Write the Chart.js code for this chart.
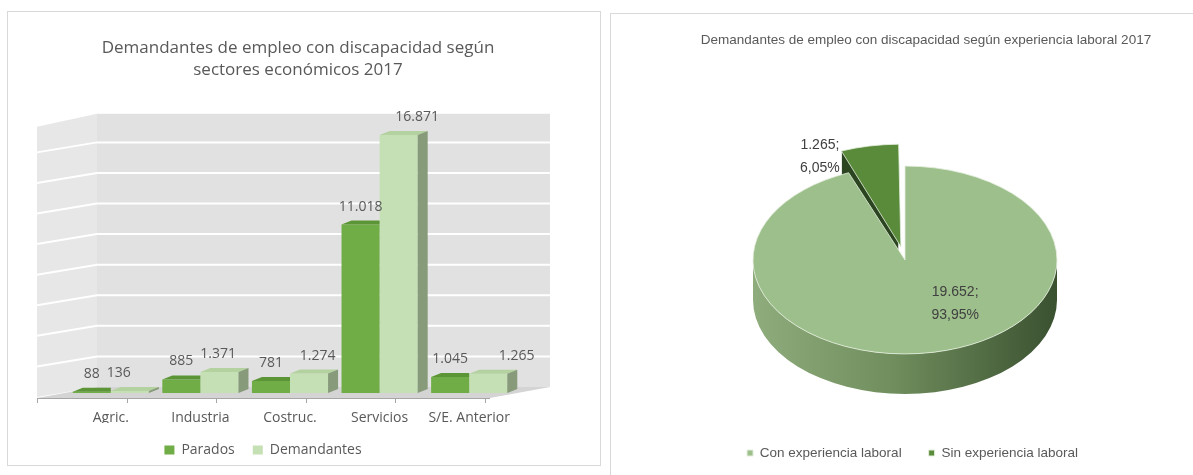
<!DOCTYPE html>
<html><head><meta charset="utf-8">
<script src="https://cdn.jsdelivr.net/npm/chart.js@4.4.0/dist/chart.umd.min.js"></script>
<style>
html,body{margin:0;padding:0;background:#fff;width:1193px;height:475px;overflow:hidden;}
#p1{position:absolute;left:7px;top:11px;width:592px;height:453px;border:1px solid #d9d9d9;}
#p2{position:absolute;left:610px;top:13px;width:583px;height:462px;border-left:1px solid #d9d9d9;border-top:1px solid #d9d9d9;}
canvas{display:block;}
</style></head><body>
<div id="p1"><canvas id="c1" width="592" height="453"></canvas></div>
<div id="p2"><canvas id="c2" width="582" height="461"></canvas></div>
<script>
// ---- data ----
const sectores = ['Agric.', 'Industria', 'Costruc.', 'Servicios', 'S/E. Anterior'];
const parados = [88, 885, 781, 11018, 1045];
const demandantes = [136, 1371, 1274, 16871, 1265];
const yTicks = [0, 2000, 4000, 6000, 8000, 10000, 12000, 14000, 16000, 18000];
const experiencia = ['Con experiencia laboral', 'Sin experiencia laboral'];
const experienciaValores = [19652, 1265];

const fmt = n => String(n).replace(/\B(?=(\d{3})+(?!\d))/g, '.');
const pct = (v, t) => (v / t * 100).toFixed(2).replace('.', ',') + '%';

const GREY = '#595959';
const OPEN = '"Open Sans", "DejaVu Sans", sans-serif';
const NARROW = '"Liberation Sans", Arial, sans-serif';

// shift title / legend boxes after layout
const shiftPlugin = {
  id: 'shiftBoxes',
  afterLayout(chart, args, o) {
    if (chart.titleBlock && o.titleDx) { chart.titleBlock.left += o.titleDx; chart.titleBlock.right += o.titleDx; }
    if (chart.legend) {
      chart.legend.left += (o.legendDx || 0); chart.legend.right += (o.legendDx || 0);
      chart.legend.top += (o.legendDy || 0); chart.legend.bottom += (o.legendDy || 0);
    }
  }
};

// ---- 3D-like background for bar chart ----
const wallPlugin = {
  id: 'wall3d',
  beforeDraw(chart) {
    const {ctx, chartArea: a, scales: {x, y}} = chart;
    const L = a.left, R = a.right, B = a.bottom;
    const wl = L + 31, wr = R + 36, wt = a.top - 4, wb = B - 6;
    const sl = L - 29;
    ctx.save();
    ctx.fillStyle = '#e1e1e1';
    ctx.fillRect(wl, wt, wr - wl, wb - wt);
    ctx.fillStyle = '#e7e7e7';
    ctx.beginPath(); ctx.moveTo(sl, wt + 13); ctx.lineTo(wl, wt); ctx.lineTo(wl, wb); ctx.lineTo(sl, wb + 10); ctx.closePath(); ctx.fill();
    ctx.fillStyle = '#d4d4d4';
    ctx.beginPath(); ctx.moveTo(sl, B + 5); ctx.lineTo(R - 24, B + 5); ctx.lineTo(wr, wb); ctx.lineTo(wl, wb); ctx.closePath(); ctx.fill();
    ctx.strokeStyle = '#ffffff'; ctx.lineWidth = 2;
    yTicks.slice(1, -1).forEach(v => {
      const py = y.getPixelForValue(v) - 6;
      ctx.beginPath(); ctx.moveTo(sl, py + 10); ctx.lineTo(wl, py); ctx.lineTo(wr, py); ctx.stroke();
    });
    ctx.strokeStyle = '#a6a6a6'; ctx.lineWidth = 1;
    ctx.beginPath(); ctx.moveTo(sl, B + 5.5); ctx.lineTo(R - 24, B + 5.5); ctx.stroke();
    const half = (x.getPixelForValue(1) - x.getPixelForValue(0)) / 2;
    for (let i = 0; i <= sectores.length; i++) {
      const px = Math.round(x.getPixelForValue(0) - half + i * half * 2 - 29) + 0.5;
      ctx.beginPath(); ctx.moveTo(px, B + 5); ctx.lineTo(px, B + 10); ctx.stroke();
    }
    ctx.restore();
  },
  afterDatasetsDraw(chart) {
    const {ctx} = chart;
    const dx = 10, dy = 4;
    const tops = ['#5c9536', '#b3d29f'];
    ctx.save();
    chart.data.datasets.forEach((ds, di) => {
      chart.getDatasetMeta(di).data.forEach((bar) => {
        const l = bar.x - bar.width / 2, r = bar.x + bar.width / 2, t = bar.y, b = bar.base;
        ctx.fillStyle = tops[di];
        ctx.beginPath();
        if (di === 0) { ctx.moveTo(l, t); ctx.lineTo(l + dx, t - dy); ctx.lineTo(r, t - dy); ctx.lineTo(r, t); }
        else { ctx.moveTo(l, t); ctx.lineTo(l + dx, t - dy); ctx.lineTo(r + dx, t - dy); ctx.lineTo(r, t); }
        ctx.closePath(); ctx.fill();
        if (di === 1) {
          ctx.fillStyle = '#879a79';
          ctx.beginPath(); ctx.moveTo(r, t); ctx.lineTo(r + dx, t - dy); ctx.lineTo(r + dx, b - dy); ctx.lineTo(r, b); ctx.closePath(); ctx.fill();
        }
      });
    });
    ctx.font = '14px ' + OPEN;
    ctx.fillStyle = GREY; ctx.textAlign = 'center'; ctx.textBaseline = 'middle';
    const mid = (chart.chartArea.left + chart.chartArea.right) / 2;
    chart.data.datasets.forEach((ds, di) => {
      chart.getDatasetMeta(di).data.forEach((bar, i) => {
        const shift = di === 1 ? (bar.x - mid + 50) * 0.11 + 1 : 0;
        ctx.fillText(fmt(ds.data[i]), bar.x + shift, bar.y - 18);
      });
    });
    ctx.restore();
  }
};

new Chart(document.getElementById('c1'), {
  type: 'bar',
  data: {
    labels: sectores,
    datasets: [
      {label: 'Parados', data: parados, backgroundColor: '#70ad47', borderWidth: 0},
      {label: 'Demandantes', data: demandantes, backgroundColor: '#c5e0b4', borderWidth: 0}
    ]
  },
  options: {
    responsive: false, animation: false,
    layout: {padding: {left: 58, right: 86, top: 0, bottom: 0}},
    datasets: {bar: {barPercentage: 1, categoryPercentage: 0.85}},
    scales: {
      x: {
        grid: {display: false, drawTicks: false}, border: {display: false},
        ticks: {color: GREY, font: {family: OPEN, size: 14}, padding: 16.6, maxRotation: 0},
        afterFit(s) { s.height = 30; }
      },
      y: {display: false, min: yTicks[0], max: yTicks[yTicks.length - 1]}
    },
    plugins: {
      title: {
        display: true,
        text: ['Demandantes de empleo con discapacidad según', 'sectores económicos 2017'],
        color: GREY, font: {family: OPEN, size: 17, weight: 'normal', lineHeight: 22 / 17},
        padding: {top: 25, bottom: 36.8}
      },
      legend: {
        position: 'bottom',
        labels: {color: GREY, font: {family: OPEN, size: 14}, boxWidth: 10, boxHeight: 9, padding: 18}
      },
      tooltip: {enabled: false},
      shiftBoxes: {titleDx: 8, legendDx: -27, legendDy: 2}
    }
  },
  plugins: [wallPlugin, shiftPlugin]
});

// ---- 3D-like pie ----
const pie3d = {
  id: 'pie3d',
  beforeDatasetsDraw(chart, args, o) {
    const {ctx} = chart;
    const meta = chart.getDatasetMeta(0);
    const big = meta.data[0], small = meta.data[1];
    const cx = big.x, cy = big.y, R = big.outerRadius, k = o.tilt, D = o.depth;
    ctx.save();
    const g = ctx.createLinearGradient(cx - R, 0, cx + R, 0);
    g.addColorStop(0, '#8fac7c'); g.addColorStop(0.45, '#718f5e'); g.addColorStop(1, '#3a5130');
    ctx.fillStyle = g;
    ctx.beginPath();
    ctx.ellipse(cx, cy, R, R * k, 0, 0, Math.PI);
    ctx.lineTo(cx - R, cy + D);
    ctx.ellipse(cx, cy + D, R, R * k, 0, Math.PI, 0, true);
    ctx.closePath(); ctx.fill();
    const circ = small.endAngle - small.startAngle;
    const fix = 1 - Math.sin(Math.min(Math.PI, circ));
    const off = (small.options.offset || 0) / 4 * (1 + fix);
    const m = (small.startAngle + small.endAngle) / 2;
    const ox = cx + Math.cos(m) * off, oy = cy + Math.sin(m) * off * k;
    const s = small.startAngle;
    const ex = ox + Math.cos(s) * R, ey = oy + Math.sin(s) * R * k;
    ctx.fillStyle = '#2b4520';
    ctx.beginPath(); ctx.moveTo(ox, oy); ctx.lineTo(ex, ey); ctx.lineTo(ex, ey + D); ctx.lineTo(ox, oy + D); ctx.closePath(); ctx.fill();
    ctx.restore();
    ctx.save();
    ctx.translate(cx, cy); ctx.scale(1, k); ctx.translate(-cx, -cy);
  },
  afterDatasetsDraw(chart, args, o) {
    const {ctx} = chart;
    ctx.restore();
    const meta = chart.getDatasetMeta(0);
    const big = meta.data[0];
    const cx = big.x, cy = big.y, R = big.outerRadius;
    const vals = chart.data.datasets[0].data;
    const total = vals.reduce((a, b) => a + b, 0);
    ctx.save();
    ctx.font = '14px ' + NARROW;
    ctx.fillStyle = '#404040'; ctx.textAlign = 'center'; ctx.textBaseline = 'middle';
    const pos = [[0.33, 0.21], [-0.56, -0.757]];
    vals.forEach((v, i) => {
      const px = cx + pos[i][0] * R, py = cy + pos[i][1] * R;
      ctx.fillText(fmt(v) + ';', px, py);
      ctx.fillText(pct(v, total), px, py + 23);
    });
    ctx.restore();
  }
};

new Chart(document.getElementById('c2'), {
  type: 'pie',
  data: {
    labels: experiencia,
    datasets: [{
      data: experienciaValores,
      backgroundColor: ['#9dbf8b', '#5a8b3b'],
      borderColor: '#e4eedd', borderWidth: 1,
      offset: [0, 88],
      radius: 152
    }]
  },
  options: {
    responsive: false, animation: false,
    layout: {padding: {left: 6, right: 0, top: 0, bottom: 5.25}},
    plugins: {
      title: {
        display: true,
        text: 'Demandantes de empleo con discapacidad según experiencia laboral 2017',
        color: GREY, font: {family: NARROW, size: 13.5, weight: 'normal', lineHeight: 1.2},
        padding: {top: 17.9, bottom: 52.65}
      },
      legend: {
        position: 'bottom',
        labels: {color: GREY, font: {family: NARROW, size: 13.5}, boxWidth: 6, boxHeight: 6, padding: 27}
      },
      tooltip: {enabled: false},
      pie3d: {tilt: 0.618, depth: 40},
      shiftBoxes: {titleDx: 21, legendDx: 7.5}
    }
  },
  plugins: [pie3d, shiftPlugin]
});
</script>
</body></html>
